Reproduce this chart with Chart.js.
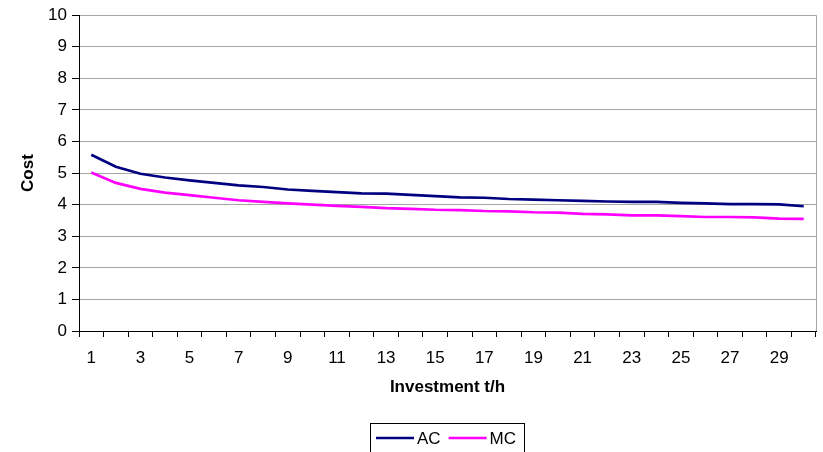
<!DOCTYPE html>
<html>
<head>
<meta charset="utf-8">
<script src="https://cdn.jsdelivr.net/npm/chart.js@4"></script>
<style>
  html, body { margin: 0; padding: 0; background: #fff; }
  #wrap { width: 823px; height: 452px; position: relative; }
</style>
</head>
<body>
<div id="wrap"><canvas id="chart"></canvas></div>
<script>
// cost curves per investment step (t/h)
const investment = Array.from({ length: 30 }, (_, i) => String(i + 1));
const acCost = [5.58, 5.20, 4.98, 4.86, 4.77, 4.69, 4.61, 4.56, 4.48, 4.44,
  4.40, 4.36, 4.35, 4.31, 4.27, 4.23, 4.22, 4.18, 4.16, 4.14,
  4.12, 4.10, 4.09, 4.09, 4.06, 4.04, 4.02, 4.02, 4.01, 3.95];
const mcCost = [5.02, 4.69, 4.50, 4.38, 4.30, 4.22, 4.14, 4.09, 4.04, 4.00,
  3.96, 3.93, 3.89, 3.87, 3.84, 3.83, 3.80, 3.79, 3.76, 3.75,
  3.71, 3.69, 3.66, 3.66, 3.64, 3.61, 3.61, 3.60, 3.56, 3.55];
const yTicks = [0, 1, 2, 3, 4, 5, 6, 7, 8, 9, 10];

const FONT = "'Liberation Sans', Arial, sans-serif";

// plot frame on the right plus a boxed legend under the axis title
const frameAndLegend = {
  id: 'frameAndLegend',
  afterDraw(chart) {
    const { ctx, chartArea: a } = chart;
    ctx.save();
    ctx.strokeStyle = '#a6a6a6';
    ctx.lineWidth = 1;
    ctx.beginPath();
    ctx.moveTo(a.right + 0.5, a.top);
    ctx.lineTo(a.right + 0.5, a.bottom);
    ctx.stroke();

    ctx.font = '17px ' + FONT;
    const ds = chart.data.datasets;
    const lineLen = 38, gap = 3, itemGap = 8, padX = 5;
    const widths = ds.map(d => lineLen + gap + ctx.measureText(d.label).width);
    const boxW = Math.round(widths.reduce((s, w) => s + w, 0) + itemGap * (ds.length - 1) + padX * 2 + 4);
    const boxX = Math.round(446.5 - boxW / 2);
    const boxY = 423.5;
    ctx.strokeStyle = '#000';
    ctx.strokeRect(boxX + 0.5, boxY, boxW, 40);
    let x = boxX + padX + 1;
    const cy = 438;
    ds.forEach((d, i) => {
      ctx.strokeStyle = d.borderColor;
      ctx.lineWidth = 2.5;
      ctx.beginPath();
      ctx.moveTo(x, cy);
      ctx.lineTo(x + lineLen, cy);
      ctx.stroke();
      ctx.fillStyle = '#000';
      ctx.textBaseline = 'middle';
      ctx.fillText(d.label, x + lineLen + gap, cy + 1);
      x += widths[i] + itemGap;
    });
    ctx.restore();
  }
};

new Chart(document.getElementById('chart'), {
  type: 'line',
  data: {
    labels: investment,
    datasets: [
      { label: 'AC', data: acCost, borderColor: '#000080', borderWidth: 2.7, pointRadius: 0, tension: 0, fill: false },
      { label: 'MC', data: mcCost, borderColor: '#ff00ff', borderWidth: 2.7, pointRadius: 0, tension: 0, fill: false },
    ]
  },
  options: {
    responsive: true, maintainAspectRatio: false, animation: false,
    layout: { padding: { left: 0, right: 7, top: 14, bottom: 52 } },
    plugins: { legend: { display: false }, tooltip: { enabled: false } },
    scales: {
      x: {
        offset: true,
        grid: { offset: true, drawOnChartArea: false, tickLength: 6, tickColor: '#000' },
        border: { color: '#000', width: 1 },
        ticks: {
          autoSkip: false, maxRotation: 0, padding: 11, color: '#000',
          font: { family: FONT, size: 17 },
          callback: (v, i) => (i % 2 === 0 ? investment[i] : '')
        },
        title: { display: true, text: 'Investment t/h', color: '#000', font: { family: FONT, size: 17, weight: 'bold' }, padding: { top: 10, bottom: 2 } },
        afterFit: (s) => { s.height = 69; }
      },
      y: {
        min: 0, max: 10,
        afterBuildTicks: (s) => { s.ticks = yTicks.map(v => ({ value: v })); },
        grid: { color: '#a6a6a6', tickLength: 7, tickColor: '#000' },
        border: { color: '#000', width: 1 },
        ticks: { padding: 5, color: '#000', font: { family: FONT, size: 17 } },
        title: { display: true, text: 'Cost', color: '#000', font: { family: FONT, size: 17, weight: 'bold' }, padding: { top: 18, bottom: 0 } },
        afterFit: (s) => { s.width = 79; }
      }
    }
  },
  plugins: [frameAndLegend]
});
</script>
</body>
</html>
